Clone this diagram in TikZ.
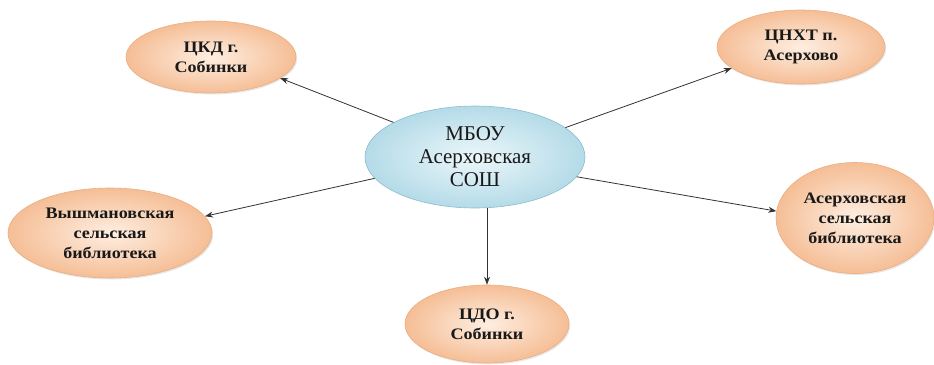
\documentclass[tikz,border=0pt]{standalone}
\usepackage{fontspec}
\setmainfont{Liberation Serif}
\newfontfamily\wideserif[FakeStretch=1.13]{Liberation Serif}
\usetikzlibrary{shapes.geometric,arrows.meta,shadows}
\definecolor{peachin}{RGB}{254,238,225}
\definecolor{peachout}{RGB}{245,190,150}
\definecolor{peachline}{RGB}{234,174,128}
\definecolor{bluein}{RGB}{236,247,250}
\definecolor{blueout}{RGB}{180,219,232}
\definecolor{blueline}{RGB}{140,188,204}
\definecolor{arrowcol}{RGB}{50,50,50}
\definecolor{txtcol}{RGB}{25,25,25}
\tikzset{
  hub/.style={ellipse, inner sep=0pt, draw=blueline, line width=0.6pt,
    inner color=bluein, outer color=blueout, text=txtcol, align=center,
    font=\fontsize{21}{23}\selectfont},
  partner/.style={ellipse, inner sep=0pt, draw=peachline, line width=0.6pt,
    inner color=peachin, outer color=peachout, text=txtcol, align=center,
    font=\wideserif\fontsize{16}{20}\selectfont\bfseries,
    drop shadow={opacity=0.18, shadow xshift=1.2pt, shadow yshift=-1.5pt}},
  link/.style={draw=arrowcol, line width=0.8pt, -{Stealth[length=8pt,width=6pt]}}
}
\begin{document}
\begin{tikzpicture}[x=1pt,y=-1pt]
\useasboundingbox (0,0) rectangle (934,364);
\node[hub, minimum width=220pt, minimum height=102pt] (c) at (475,157) {МБОУ\\Асерховская\\СОШ};
\node[partner, minimum width=170pt, minimum height=72pt] (a) at (211,57) {ЦКД г.\\Собинки};
\node[partner, minimum width=168pt, minimum height=74pt] (b) at (801,47) {ЦНХТ п.\\Асерхово};
\node[partner, minimum width=204pt, minimum height=90pt] (d) at (110,233) {Вышмановская\\сельская\\библиотека};
\node[partner, minimum width=164pt, minimum height=78pt] (e) at (487,324) {ЦДО г.\\Собинки};
\node[partner, minimum width=158pt, minimum height=111pt] (f) at (855,218) {Асерховская\\сельская\\библиотека};
\draw[link] (c.157) -- (a.-17);
\draw[link] (c.18) -- (b.197);
\draw[link] (c.192) -- (d.10.6);
\draw[link] (c.south -| e.north) -- (e.north);
\draw[link] (c.-11.3) -- (f.175.7);
\end{tikzpicture}
\end{document}
